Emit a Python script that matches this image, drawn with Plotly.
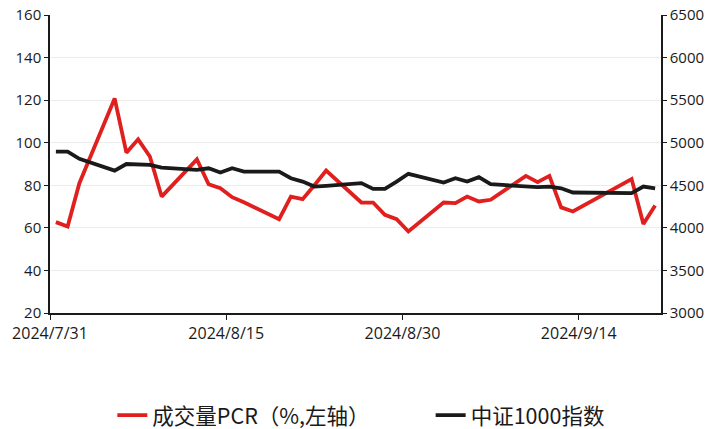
import pandas as pd
import plotly.graph_objects as go

dates = ["2024-07-31", "2024-08-01", "2024-08-02", "2024-08-05", "2024-08-06", "2024-08-07",
         "2024-08-08", "2024-08-09", "2024-08-12", "2024-08-13", "2024-08-14", "2024-08-15",
         "2024-08-16", "2024-08-19", "2024-08-20", "2024-08-21", "2024-08-22", "2024-08-23",
         "2024-08-26", "2024-08-27", "2024-08-28", "2024-08-29", "2024-08-30", "2024-09-02",
         "2024-09-03", "2024-09-04", "2024-09-05", "2024-09-06", "2024-09-09", "2024-09-10",
         "2024-09-11", "2024-09-12", "2024-09-13", "2024-09-18", "2024-09-19", "2024-09-20"]

pcr = [62.7, 60.6, 81.0, 120.8, 95.3, 101.6, 93.5, 74.7, 92.2, 80.5, 78.6, 74.4,
       72.0, 64.1, 74.7, 73.5, 80.0, 86.9, 71.9, 71.9, 66.1, 64.1, 58.3, 71.9,
       71.6, 74.7, 72.4, 73.2, 84.4, 81.5, 84.4, 69.6, 67.7, 82.9, 61.8, 70.5]

csi1000 = [4895, 4895, 4810, 4672, 4750, 4750, 4740, 4708, 4680, 4700, 4650, 4700,
           4660, 4660, 4583, 4543, 4485, 4493, 4525, 4458, 4458, 4543, 4635, 4533,
           4583, 4543, 4595, 4513, 4485, 4478, 4485, 4465, 4415, 4408, 4485, 4465]

tick_dates = ["2024-07-31", "2024-08-15", "2024-08-30", "2024-09-14"]
tick_labels = ["2024/7/31", "2024/8/15", "2024/8/30", "2024/9/14"]

name_pcr = "成交量PCR（%,左轴）"
name_idx = "中证1000指数"

# points sit in the middle of each day on the date axis
x = pd.to_datetime(dates) + pd.Timedelta(hours=12)

fig = go.Figure()
fig.add_trace(go.Scatter(x=x, y=pcr, name=name_pcr, mode="lines", legend="legend",
                         line=dict(color="#e0201f", width=3.8)))
fig.add_trace(go.Scatter(x=x, y=csi1000, name=name_idx, mode="lines", yaxis="y2", legend="legend2",
                         line=dict(color="#1a1a1a", width=3.8)))

tick_font = dict(family="Open Sans, Noto Sans CJK SC", size=15, color="#1a1a1a")
xtick_font = dict(family="Open Sans, Noto Sans CJK SC", size=16, color="#1a1a1a")
legend_font = dict(family="Noto Sans CJK SC", size=21.5, color="#1a1a1a")
leg_y = -0.343

fig.update_layout(
    width=711, height=429,
    margin=dict(l=50, r=50, t=15, b=116, autoexpand=False),
    paper_bgcolor="white", plot_bgcolor="white",
    showlegend=True,
    legend=dict(orientation="h", x=0.102, xanchor="left", y=leg_y, yanchor="middle",
                font=legend_font, bgcolor="rgba(0,0,0,0)"),
    legend2=dict(orientation="h", x=0.623, xanchor="left", y=leg_y, yanchor="middle",
                 font=legend_font, bgcolor="rgba(0,0,0,0)"),
    xaxis=dict(type="date", range=["2024-07-31", "2024-09-21"], automargin=False,
               tickvals=tick_dates, ticktext=tick_labels, tickfont=xtick_font,
               showgrid=False, showline=True, linecolor="#1a1a1a", linewidth=1.5,
               ticks="outside", ticklen=5, tickcolor="#1a1a1a", zeroline=False),
    yaxis=dict(range=[20, 160], dtick=20, tickfont=tick_font, automargin=False,
               showgrid=True, gridcolor="#ececec", gridwidth=1,
               showline=True, linecolor="#1a1a1a", linewidth=1.5,
               ticks="outside", ticklen=4, tickcolor="#1a1a1a", zeroline=False),
    yaxis2=dict(range=[3000, 6500], dtick=500, tickfont=tick_font, overlaying="y", side="right",
                automargin=False, showgrid=False, showline=True, linecolor="#1a1a1a", linewidth=1.5,
                ticks="outside", ticklen=4, tickcolor="#1a1a1a", zeroline=False),
)

fig.write_html("out.html", config={"displayModeBar": False},
               post_script="document.body.style.margin='0';")
